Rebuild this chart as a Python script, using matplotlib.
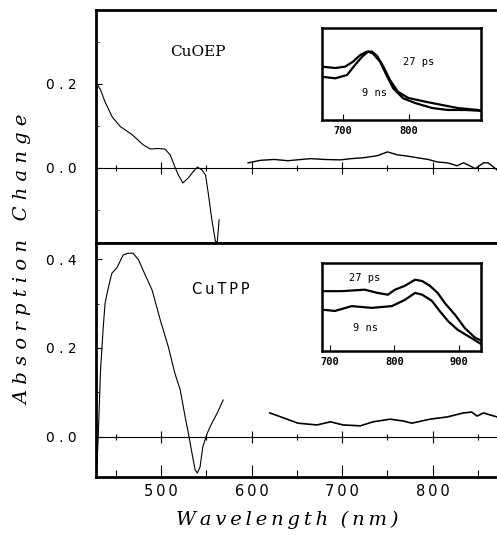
import numpy as np
import matplotlib
matplotlib.use("Agg")
import matplotlib.pyplot as plt

# ---------- data ----------
# CuOEP main panel
oep_wl_a = [428, 433, 438, 446, 455, 468, 480, 488, 496, 504, 510, 515, 519, 524,
            530, 535, 540, 545, 549, 552, 556, 560, 562, 564]
oep_da_a = [0.203, 0.186, 0.157, 0.121, 0.098, 0.079, 0.055, 0.045, 0.046, 0.045,
            0.031, 0.003, -0.017, -0.036, -0.024, -0.010, 0.002, -0.005, -0.017,
            -0.060, -0.124, -0.176, -0.176, -0.124]
oep_wl_b = [596, 610, 625, 640, 650, 665, 680, 698, 710, 723, 739, 750, 761, 772,
            783, 795, 805, 816, 827, 834, 840, 847, 856, 861, 866, 871]
oep_da_b = [0.012, 0.018, 0.020, 0.017, 0.019, 0.022, 0.020, 0.019, 0.022, 0.024,
            0.029, 0.038, 0.031, 0.028, 0.024, 0.020, 0.014, 0.012, 0.005, 0.012,
            0.006, -0.002, 0.012, 0.012, 0.004, -0.005]

# CuTPP main panel
tpp_wl_a = [429, 430.6, 433, 436, 438, 441, 445.5, 451, 458, 463, 469, 475, 480,
            490, 499, 508, 515, 521, 526.5, 530, 534, 537.5, 540, 543, 546, 551,
            556, 562, 568.5]
tpp_da_a = [-0.07, 0.009, 0.15, 0.247, 0.30, 0.33, 0.368, 0.38, 0.409, 0.413,
            0.413, 0.398, 0.375, 0.33, 0.263, 0.202, 0.144, 0.106, 0.045, 0.009,
            -0.036, -0.074, -0.081, -0.067, -0.022, 0.009, 0.031, 0.054, 0.083]
tpp_wl_b = [620, 635, 651, 672, 687, 701, 720, 734, 753, 767, 777, 797, 816, 834,
            843, 849, 856, 871]
tpp_da_b = [0.054, 0.043, 0.031, 0.027, 0.034, 0.027, 0.025, 0.034, 0.040, 0.036,
            0.031, 0.040, 0.045, 0.054, 0.056, 0.047, 0.054, 0.045]

# CuOEP inset (arbitrary units)
oep_in_wl_ps = [668, 688, 703, 715, 726, 736, 744, 751.5, 761, 771, 783, 798.5,
                824, 850, 874, 904, 909]
oep_in_ps = [0.58, 0.565, 0.58, 0.634, 0.707, 0.743, 0.743, 0.696, 0.58, 0.435,
             0.308, 0.24, 0.20, 0.163, 0.13, 0.109, 0.10]
oep_in_wl_ns = [668, 688, 706, 718, 729, 738, 745, 756, 767, 776, 791, 809, 835,
                859, 885, 909]
oep_in_ns = [0.47, 0.453, 0.489, 0.598, 0.69, 0.743, 0.725, 0.634, 0.47, 0.344,
             0.236, 0.185, 0.13, 0.109, 0.109, 0.10]

# CuTPP inset (arbitrary units)
tpp_in_wl_ps = [688, 719, 754, 774, 790, 801, 816, 832, 843, 855, 867, 878, 894,
                909, 925, 934]
tpp_in_ps = [0.68, 0.68, 0.697, 0.66, 0.64, 0.697, 0.74, 0.81, 0.795, 0.74, 0.66,
             0.545, 0.41, 0.26, 0.15, 0.12]
tpp_in_wl_ns = [688, 708, 734, 765, 796, 816, 832, 843, 858, 870, 883, 898, 914, 934]
tpp_in_ns = [0.47, 0.455, 0.51, 0.49, 0.51, 0.58, 0.66, 0.64, 0.57, 0.455, 0.34,
             0.24, 0.17, 0.08]

x_major = [500, 600, 700, 800]
x_minor = [450, 550, 650, 750, 850]

W, H = 497, 535


def box(x0, y0, x1, y1):
    # pixel box (top-left origin) -> figure fraction rect
    return [x0 / W, 1 - y1 / H, (x1 - x0) / W, (y1 - y0) / H]


def spaced(s, sep="\u2009"):
    return sep.join(s)


fig = plt.figure(figsize=(W / 100, H / 100), dpi=100)

ax_top = fig.add_axes(box(96, 10, 497, 243))
ax_bot = fig.add_axes(box(96, 243, 497, 477))

for ax in (ax_top, ax_bot):
    ax.set_xlim(428, 871)
    for side in ("left", "top", "bottom"):
        ax.spines[side].set_linewidth(2.0)
    ax.spines["right"].set_visible(False)
    # zero line with crossing ticks
    ax.axhline(0, color="black", lw=0.8)
    ax.plot(x_major, [0] * len(x_major), ls="none", marker="|", ms=9, mew=0.8, color="black")
    ax.plot(x_minor, [0] * len(x_minor), ls="none", marker="|", ms=5, mew=0.8, color="black")
    ax.tick_params(axis="y", direction="in", length=4, width=0.8, pad=14, labelsize=10)
    ax.tick_params(axis="y", which="minor", direction="in", length=2, width=0.6)

ax_top.set_ylim(-0.179, 0.376)
ax_top.set_yticks([0.0, 0.2])
ax_top.set_yticklabels(["0 . 0", "0 . 2"])
ax_top.set_yticks([-0.1, 0.1, 0.3], minor=True)
ax_top.tick_params(axis="x", bottom=False, labelbottom=False)

ax_bot.set_ylim(-0.09, 0.436)
ax_bot.set_yticks([0.0, 0.2, 0.4])
ax_bot.set_yticklabels(["0 . 0", "0 . 2", "0 . 4"])
ax_bot.set_yticks([0.1, 0.3], minor=True)
ax_bot.set_xticks(x_major)
ax_bot.set_xticklabels([spaced(str(v)) for v in x_major])
ax_bot.set_xticks(x_minor, minor=True)
ax_bot.tick_params(axis="x", which="major", direction="in", length=9, width=0.8,
                   pad=5, labelsize=10.5)
ax_bot.tick_params(axis="x", which="minor", direction="in", length=5, width=0.8)

ax_top.plot(oep_wl_a, oep_da_a, color="black", lw=0.8)
ax_top.plot(oep_wl_b, oep_da_b, color="black", lw=1.0)
ax_bot.plot(tpp_wl_a, tpp_da_a, color="black", lw=0.8)
ax_bot.plot(tpp_wl_b, tpp_da_b, color="black", lw=1.2)

ax_top.text((198 - 96) / 401, 1 - (52 - 10) / 233, "CuOEP", transform=ax_top.transAxes,
            ha="center", va="center", fontsize=11, family="DejaVu Serif")
ax_bot.text((221 - 96) / 401, 1 - (290 - 243) / 234, spaced("CuTPP"),
            transform=ax_bot.transAxes, ha="center", va="center", fontsize=10.5)

# insets
in1 = fig.add_axes(box(322, 28, 481, 120))
in1.plot(oep_in_wl_ps, oep_in_ps, color="black", lw=1.6)
in1.plot(oep_in_wl_ns, oep_in_ns, color="black", lw=1.6)
in1.set_xlim(668, 909)
in1.set_ylim(0, 1)
in1.set_xticks([700, 800])
in1.text(814, 0.63, "27 ps", fontsize=7.5, family="DejaVu Sans Mono", ha="center", va="center")
in1.text(748, 0.29, "9 ns", fontsize=7.5, family="DejaVu Sans Mono", ha="center", va="center")

in2 = fig.add_axes(box(322, 263, 481, 351))
in2.plot(tpp_in_wl_ps, tpp_in_ps, color="black", lw=1.6)
in2.plot(tpp_in_wl_ns, tpp_in_ns, color="black", lw=1.6)
in2.set_xlim(688, 934)
in2.set_ylim(0, 1)
in2.set_xticks([700, 800, 900])
in2.text(754, 0.83, "27 ps", fontsize=7.5, family="DejaVu Sans Mono", ha="center", va="center")
in2.text(756, 0.26, "9 ns", fontsize=7.5, family="DejaVu Sans Mono", ha="center", va="center")

for ax in (in1, in2):
    for s in ax.spines.values():
        s.set_linewidth(1.8)
    ax.set_yticks([])
    ax.tick_params(axis="x", direction="in", length=4, width=0.8, pad=4, labelsize=7.5)
    for lab in ax.get_xticklabels():
        lab.set_family("DejaVu Sans Mono")
        lab.set_fontweight("bold")

fig.text(23 / W, 1 - 260 / H, "   ".join(" ".join(w) for w in "Absorption Change".split()),
         rotation=90, ha="center", va="center", fontsize=14, family="DejaVu Serif",
         style="italic")
fig.text(287 / W, 1 - 520 / H, spaced("Wavelength") + "  " + spaced("(nm)"),
         ha="center", va="center", fontsize=14, family="DejaVu Serif", style="italic")

fig.savefig("out.png", dpi=100)
